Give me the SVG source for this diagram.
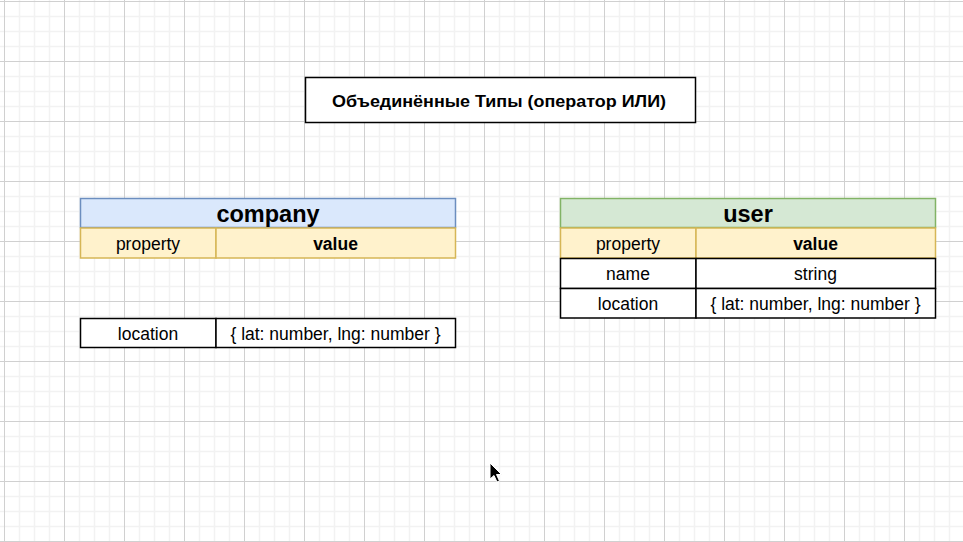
<svg xmlns="http://www.w3.org/2000/svg" width="963" height="542" viewBox="0 0 963 542">
<defs>
<pattern id="grid" patternUnits="userSpaceOnUse" x="4" y="1" width="60" height="60">
<path d="M15.5 0V60M30.5 0V60M45.5 0V60M0 15.5H60M0 30.5H60M0 45.5H60" stroke="#f2f2f2" stroke-width="1.5" fill="none"/>
<path d="M0.5 0V60M0 0.5H60" stroke="#d0d0d0" stroke-width="1" fill="none"/>
</pattern>
</defs>
<style>
text{font-family:"Liberation Sans",Arial,sans-serif;fill:#000;text-anchor:middle;dominant-baseline:central}
.t{font-size:17.5px}
.b{font-weight:bold}
.h{font-size:23.5px;font-weight:bold}
.cell{fill:#fff;stroke:#000;stroke-width:1.5}
.yel{fill:#fff2cc;stroke:#d6b656;stroke-width:1.5}
.blue{fill:#dae8fc;stroke:#6c8ebf;stroke-width:1.5}
.green{fill:#d5e8d4;stroke:#82b366;stroke-width:1.5}
</style>
<rect width="963" height="542" fill="#fff"/>
<rect width="963" height="542" fill="url(#grid)"/>

<g id="title">
<rect x="305.5" y="77.5" width="390" height="45" class="cell"/>
<text x="499" y="101" class="b" style="font-size:17px" textLength="334" lengthAdjust="spacingAndGlyphs">Объединённые Типы (оператор ИЛИ)</text>
</g>

<g id="company">
<rect x="80.5" y="198.5" width="375" height="29" class="blue"/>
<text x="268" y="213.5" class="h">company</text>
<rect x="80.5" y="228" width="135.5" height="30" class="yel"/>
<rect x="216" y="228" width="239.5" height="30" class="yel"/>
<text x="148" y="243.5" class="t">property</text>
<text x="335.5" y="243.5" class="t b">value</text>
</g>

<g id="company-location">
<rect x="80.5" y="318.5" width="135.5" height="29" class="cell"/>
<rect x="216" y="318.5" width="239.5" height="29" class="cell"/>
<text x="148" y="333.5" class="t">location</text>
<text x="335.5" y="333.5" class="t">{ lat: number, lng: number }</text>
</g>

<g id="user">
<rect x="560.5" y="198.5" width="375" height="29" class="green"/>
<text x="748" y="213.5" class="h">user</text>
<rect x="560.5" y="228" width="135.5" height="30" class="yel"/>
<rect x="696" y="228" width="239.5" height="30" class="yel"/>
<text x="628" y="243.5" class="t">property</text>
<text x="815.5" y="243.5" class="t b">value</text>
<rect x="560.5" y="258.5" width="135.5" height="30" class="cell"/>
<rect x="696" y="258.5" width="239.5" height="30" class="cell"/>
<text x="628" y="273.5" class="t">name</text>
<text x="815.5" y="273.5" class="t">string</text>
<rect x="560.5" y="288.5" width="135.5" height="29.5" class="cell"/>
<rect x="696" y="288.5" width="239.5" height="29.5" class="cell"/>
<text x="628" y="303.5" class="t">location</text>
<text x="815.5" y="303.5" class="t">{ lat: number, lng: number }</text>
</g>

<g id="connectors"></g>

<g id="cursor">
<path d="M490 463 L490 479 L494 475.5 L497 482 L499.5 481 L496.5 474.5 L501.5 474.5 Z" fill="#000" stroke="#fff" stroke-width="1"/>
</g>
</svg>
